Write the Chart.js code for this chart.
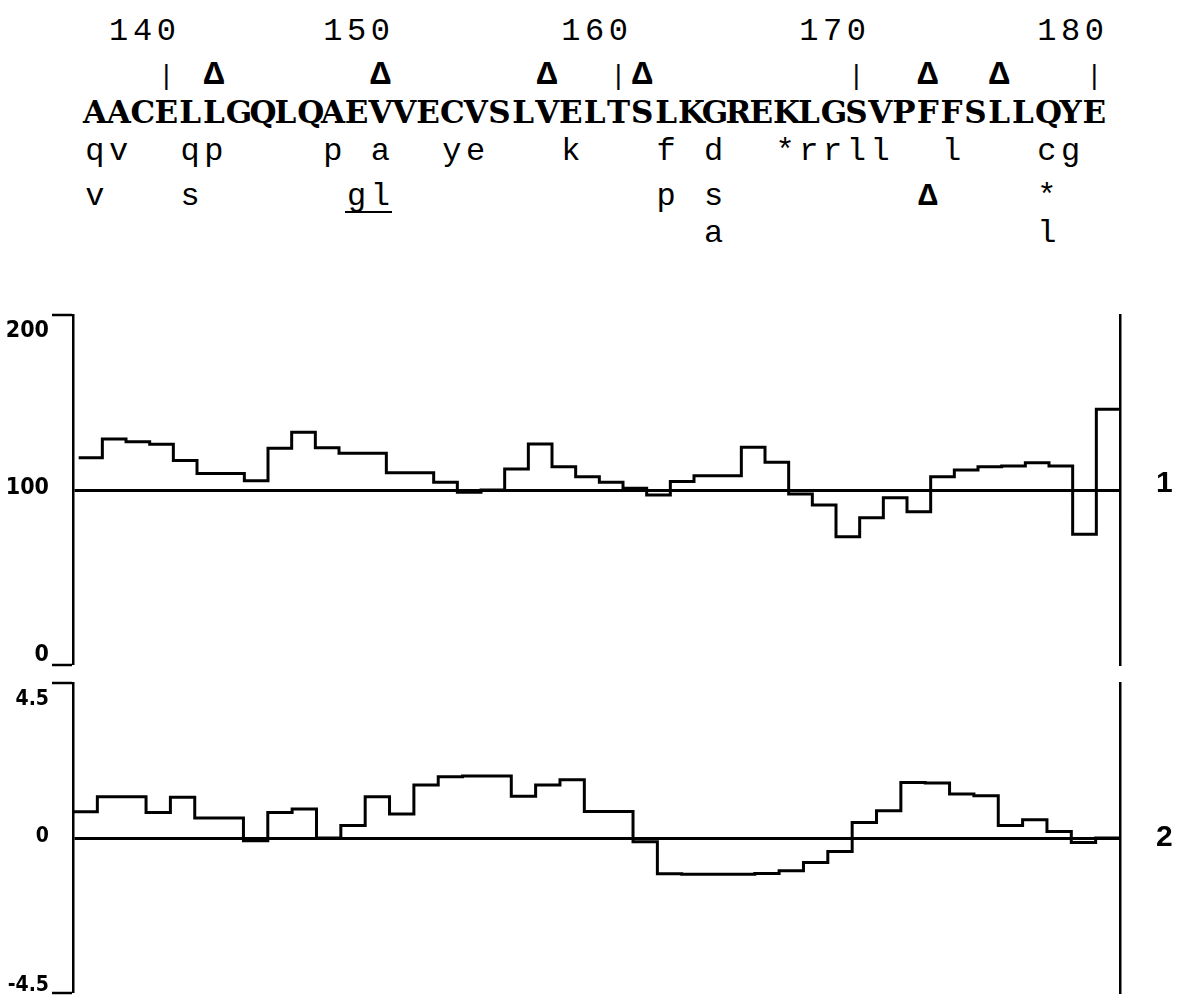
<!DOCTYPE html>
<html>
<head>
<meta charset="utf-8">
<script src="https://cdn.jsdelivr.net/npm/chart.js@4.4.1/dist/chart.umd.min.js"></script>
<style>
  html, body { margin: 0; padding: 0; background: #fff; }
  #page { position: relative; width: 1177px; height: 996px; overflow: hidden; background: #fff; }
  .row { position: absolute; left: 83px; white-space: nowrap; color: #000; }
  .row span { display: inline-block; width: 23.8px; text-align: center; }
  .mono { font-family: "Liberation Mono", "DejaVu Sans Mono", monospace; font-size: 32px; line-height: 32px; font-weight: normal; }
  .seq { font-family: "DejaVu Serif", "Liberation Serif", serif; font-size: 31px; line-height: 31px; font-weight: bold; }
  .marks { font-family: "Liberation Mono", "DejaVu Sans Mono", monospace; font-size: 34px; line-height: 34px; }
  .tri { font-weight: bold; }
  .bar { font-size: 27px; }
  .ul { box-shadow: inset 0 -2px 0 #000; }
  canvas { position: absolute; left: 0; }
</style>
</head>
<body>
<div id="page">
  <canvas id="c1" width="1177" height="385" style="top:290px"></canvas>
  <canvas id="c2" width="1177" height="323" style="top:673px"></canvas>
</div>
<script>
// ---------------- sequence annotation (text) ----------------
const residues = 'AACELLGQLQAEVVECVSLVELTSLKGREKLGSVPFFSLLQYE';
const residueNumbers = [[1, '140'], [10, '150'], [20, '160'], [30, '170'], [40, '180']];
const markers = [[3, '|'], [5, 'Δ'], [12, 'Δ'], [19, 'Δ'], [22, '|'], [23, 'Δ'], [32, '|'], [35, 'Δ'], [38, 'Δ'], [42, '|']];
const variants1 = [[0, 'qv'], [4, 'qp'], [10, 'p'], [12, 'a'], [15, 'ye'], [20, 'k'], [24, 'f'], [26, 'd'], [29, '*rrll'], [36, 'l'], [40, 'cg']];
const variants2 = [[0, 'v'], [4, 's'], [11, 'gl'], [24, 'p'], [26, 's'], [35, 'Δ'], [40, '*']];
const variants3 = [[26, 'a'], [40, 'l']];
const underlinedCells = [11, 12]; // in variants2

// ---------------- plotted series ----------------
// panel 1: one value per bin (44 bins)
const panel1Values = [118.5, 129.1, 127.6, 126.1, 116.8, 109.5, 109.5, 105.3, 123.8, 133.0,
                      124.2, 121.0, 121.0, 109.9, 109.9, 104.4, 98.7, 100.0, 112.0, 126.3,
                      113.3, 107.6, 104.4, 101.0, 97.1, 104.8, 108.2, 108.2, 124.4, 115.8,
                      97.7, 91.4, 73.3, 84.2, 95.6, 87.6, 107.6, 111.4, 113.3, 113.7,
                      115.6, 113.7, 74.7, 146.1];
// panel 2: one value per bin (43 bins)
const panel2Values = [0.76, 1.20, 1.20, 0.74, 1.18, 0.58, 0.58, -0.08, 0.74, 0.84,
                      0.00, 0.36, 1.20, 0.70, 1.54, 1.78, 1.80, 1.80, 1.21, 1.54,
                      1.69, 0.77, 0.77, -0.11, -1.04, -1.05, -1.05, -1.05, -1.03, -0.95,
                      -0.71, -0.39, 0.45, 0.79, 1.61, 1.60, 1.28, 1.23, 0.36, 0.53,
                      0.19, -0.13, 0.00];
const panel1Ticks = [0, 100, 200];
const panel1TickLabels = ['0', '100', '200'];
const panel1Baseline = 100;
const panel1Name = '1';
const panel2Ticks = [-4.5, 0, 4.5];
const panel2TickLabels = ['-4.5', '0', '4.5'];
const panel2Baseline = 0;
const panel2Name = '2';

// ---------------- build text rows ----------------
const page = document.getElementById('page');
function makeRow(items, cls, top, opts = {}) {
  const row = document.createElement('div');
  row.className = 'row ' + cls;
  row.style.top = top + 'px';
  const cells = [];
  for (let i = 0; i < residues.length; i++) {
    const s = document.createElement('span');
    s.innerHTML = '&nbsp;';
    cells.push(s);
    row.appendChild(s);
  }
  items.forEach(([start, text]) => {
    [...text].forEach((ch, k) => {
      const c = cells[start + k];
      c.textContent = ch;
      if (ch === 'Δ') c.classList.add('tri');
      if (ch === '|') c.classList.add('bar');
    });
  });
  (opts.underline || []).forEach(i => cells[i].classList.add('ul'));
  page.appendChild(row);
}
makeRow(residueNumbers, 'mono', 15.5);
makeRow(markers, 'marks', 58);
makeRow([[0, residues]], 'seq', 96.8);
makeRow(variants1, 'mono', 136.2);
makeRow(variants2, 'mono', 180.5, { underline: underlinedCells });
makeRow(variants3, 'mono', 217.5);

// ---------------- axis-label font: prefer a condensed face ----------------
const axisFamily = '"Liberation Sans Narrow", "Arial Narrow", "DejaVu Sans Condensed", "Liberation Sans", "DejaVu Sans", sans-serif';
const probe = document.createElement('canvas').getContext('2d');
probe.font = 'bold 100px "Liberation Sans", sans-serif';
const wNormal = probe.measureText('200').width;
probe.font = 'condensed bold 100px ' + axisFamily;
const wCond = probe.measureText('200').width;
const condensedOK = wCond < wNormal * 0.9;
const axisStyle = condensedOK ? 'condensed' : 'normal';
const axisScale = condensedOK ? 1 : 0.82;

// ---------------- charts ----------------
function stepPoints(values) {
  const pts = values.map((v, i) => ({ x: i, y: v }));
  pts.push({ x: values.length, y: values[values.length - 1] });
  return pts;
}

function labelShiftPlugin(shifts) {
  return {
    id: 'labelShift',
    beforeDraw(chart) {
      Object.keys(shifts).forEach(id => {
        const scale = chart.scales[id];
        if (!scale || typeof scale.getLabelItems !== 'function') return;
        const items = scale.getLabelItems();
        if (!items || items.__shifted) return;
        items.forEach(it => {
          const key = Array.isArray(it.label) ? it.label.join('') : String(it.label);
          const d = shifts[id][key];
          if (d && it.options && it.options.translation) it.options.translation[1] += d;
        });
        items.__shifted = true;
      });
    }
  };
}

const axisFont = (size) => ({ family: axisFamily, style: axisStyle, size: Math.round(size * axisScale), weight: 'bold' });
const nameFont = { family: '"Liberation Sans", Arial, sans-serif', size: 30, weight: 'bold' };

function makePanel(canvasId, values, xMin, ticks, tickLabels, baseline, name, padTop, padBottom, fontSize, shifts) {
  const yMin = ticks[0], yMax = ticks[ticks.length - 1];
  return new Chart(document.getElementById(canvasId), {
    type: 'line',
    data: {
      datasets: [{
        data: stepPoints(values),
        stepped: 'before',
        borderColor: '#000',
        borderWidth: 3,
        borderCapStyle: 'butt',
        borderJoinStyle: 'miter',
        pointRadius: 0,
        fill: false,
        yAxisID: 'y'
      }]
    },
    options: {
      responsive: false,
      animation: false,
      devicePixelRatio: 1,
      layout: { padding: { top: padTop, bottom: padBottom, left: 0, right: 0 } },
      plugins: { legend: { display: false }, tooltip: { enabled: false } },
      scales: {
        x: { type: 'linear', display: false, min: xMin, max: values.length },
        y: {
          position: 'left', min: yMin, max: yMax,
          afterBuildTicks: s => { s.ticks = ticks.map(v => ({ value: v })); },
          afterFit: s => { s.width = 73; s.paddingTop = 0; s.paddingBottom = 0; },
          ticks: {
            callback: (v) => tickLabels[ticks.indexOf(v)],
            color: '#000', font: axisFont(fontSize), padding: 3
          },
          grid: {
            drawOnChartArea: true,
            color: c => (c.tick && c.tick.value === baseline) ? '#000' : 'rgba(0,0,0,0)',
            lineWidth: c => (c.tick && c.tick.value === baseline) ? 3 : 0,
            tickColor: c => (c.tick && c.tick.value === baseline) ? 'rgba(0,0,0,0)' : '#000',
            tickLength: 21, tickWidth: 2.5
          },
          border: { display: true, color: '#000', width: 2.5 }
        },
        y2: {
          position: 'right', min: yMin, max: yMax,
          afterBuildTicks: s => { s.ticks = [{ value: baseline }]; },
          afterFit: s => { s.width = 57; s.paddingTop = 0; s.paddingBottom = 0; },
          ticks: { callback: () => name, color: '#000', font: nameFont, padding: 36 },
          grid: { drawOnChartArea: false, drawTicks: false },
          border: { display: true, color: '#000', width: 2.5 }
        }
      }
    },
    plugins: [labelShiftPlugin(shifts)]
  });
}

makePanel('c1', panel1Values, -0.24, panel1Ticks, panel1TickLabels, panel1Baseline, panel1Name, 25, 10, 28,
  { y: { '200': 16, '100': -2, '0': -10 }, y2: { '1': -6 } });
makePanel('c2', panel2Values, 0, panel2Ticks, panel2TickLabels, panel2Baseline, panel2Name, 10, 3, 25,
  { y: { '4.5': 17, '0': -1, '-4.5': -7 }, y2: {} });
</script>
</body>
</html>
